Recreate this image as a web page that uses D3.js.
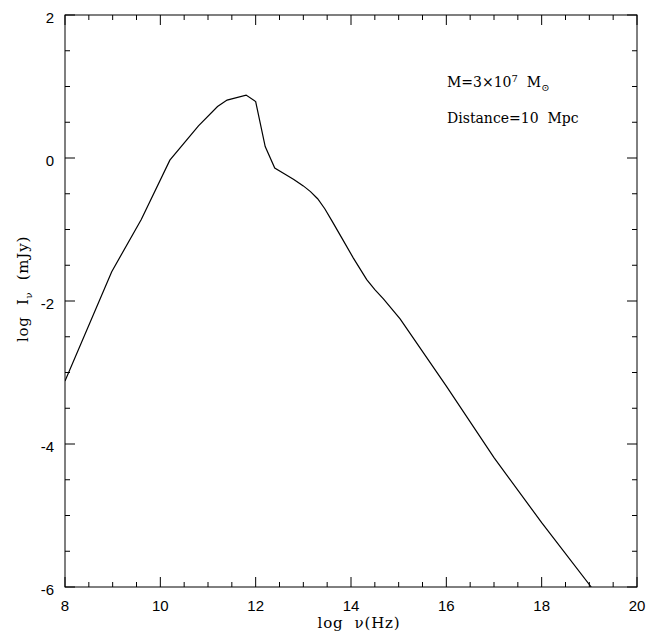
<!DOCTYPE html>
<html>
<head>
<meta charset="utf-8">
<script src="https://cdn.jsdelivr.net/npm/d3@7"></script>
<style>
  body { margin: 0; background: white; }
</style>
</head>
<body>
<div id="container"></div>
<script>
// spectrum: log nu (Hz) vs log I_nu (mJy)
let logNu = [8, 8.98, 9.6, 10.2, 10.8, 11.2, 11.4, 11.8, 12.0, 12.2, 12.4, 12.6, 12.8, 13.0, 13.15, 13.3, 13.45, 13.6, 13.8, 14.05, 14.33, 14.5, 14.68, 15.03, 16.0, 17.0, 18.0, 19.04];
let logI = [-3.12, -1.59, -0.86, -0.03, 0.45, 0.72, 0.81, 0.88, 0.79, 0.16, -0.14, -0.22, -0.30, -0.39, -0.47, -0.57, -0.71, -0.88, -1.11, -1.40, -1.70, -1.84, -1.97, -2.25, -3.19, -4.19, -5.10, -6.0];

let xTicks = [8, 10, 12, 14, 16, 18, 20];
let yTicks = [-6, -4, -2, 0, 2];

let w = 655;
let h = 635;
let plotL = 65, plotR = 637, plotT = 15, plotB = 587;

let viz = d3.select("#container")
  .append("svg")
    .attr("width", w)
    .attr("height", h)
    .style("background-color", "white")
;

let xScale = d3.scaleLinear().domain([8, 20]).range([plotL, plotR]);
let yScale = d3.scaleLinear().domain([-6, 2]).range([plotB, plotT]);

// frame
viz.append("rect")
  .attr("x", plotL)
  .attr("y", plotT)
  .attr("width", plotR - plotL)
  .attr("height", plotB - plotT)
  .attr("fill", "none")
  .style("stroke", "black")
  .style("stroke-width", 1)
;

// ticks: major every 2, minor every 0.5, pointing inward on all four sides
let xMinor = d3.range(8, 20.01, 0.5);
let yMinor = d3.range(-6, 2.01, 0.5);
function tickLen(v){
  return Math.abs(v % 2) < 1e-6 ? 10 : 5;
}

let ticks = viz.append("g").attr("class", "ticks").style("stroke", "black").style("stroke-width", 1);

ticks.selectAll(".xb").data(xMinor).enter()
  .append("line")
    .attr("x1", d => xScale(d)).attr("x2", d => xScale(d))
    .attr("y1", plotB).attr("y2", d => plotB - tickLen(d))
;
ticks.selectAll(".xt").data(xMinor).enter()
  .append("line")
    .attr("x1", d => xScale(d)).attr("x2", d => xScale(d))
    .attr("y1", plotT).attr("y2", d => plotT + tickLen(d))
;
ticks.selectAll(".yl").data(yMinor).enter()
  .append("line")
    .attr("y1", d => yScale(d)).attr("y2", d => yScale(d))
    .attr("x1", plotL).attr("x2", d => plotL + tickLen(d))
;
ticks.selectAll(".yr").data(yMinor).enter()
  .append("line")
    .attr("y1", d => yScale(d)).attr("y2", d => yScale(d))
    .attr("x1", plotR).attr("x2", d => plotR - tickLen(d))
;

// tick labels
viz.selectAll(".xlab").data(xTicks).enter()
  .append("text")
    .text(d => d)
    .attr("x", d => xScale(d))
    .attr("y", 611)
    .attr("text-anchor", "middle")
    .style("font-family", "Liberation Sans, Arial, sans-serif")
    .style("font-size", "15px")
;
viz.selectAll(".ylab").data(yTicks).enter()
  .append("text")
    .text(d => d)
    .attr("x", 54)
    .attr("y", d => yScale(d) + 8)
    .attr("text-anchor", "end")
    .style("font-family", "Liberation Sans, Arial, sans-serif")
    .style("font-size", "15px")
;

// the curve
let line = d3.line()
  .x((d, i) => xScale(logNu[i]))
  .y(d => yScale(d));

viz.append("clipPath").attr("id", "plotclip")
  .append("rect")
    .attr("x", plotL).attr("y", plotT)
    .attr("width", plotR - plotL).attr("height", plotB - plotT);

viz.append("path")
  .attr("d", line(logI))
  .attr("fill", "none")
  .attr("clip-path", "url(#plotclip)")
  .style("stroke", "black")
  .style("stroke-width", 1.2)
;

// axis titles
let serif = "DejaVu Serif, Liberation Serif, serif";

viz.append("text")
  .attr("x", 359)
  .attr("y", 628)
  .attr("text-anchor", "middle")
  .style("font-family", serif)
  .style("font-size", "15px")
  .style("letter-spacing", "0.8px")
  .style("white-space", "pre")
  .text("log  \u03BD(Hz)")
;

let yTitle = viz.append("text")
  .attr("transform", "translate(28, 289) rotate(-90)")
  .attr("text-anchor", "middle")
  .style("font-family", serif)
  .style("font-size", "15px")
  .style("letter-spacing", "0.8px")
  .style("white-space", "pre")
;
yTitle.append("tspan").text("log  I");
yTitle.append("tspan").text("\u03BD").attr("dy", 4).style("font-size", "10px");
yTitle.append("tspan").text("  (mJy)").attr("dy", -4);

// annotations
let massLabel = viz.append("text")
  .attr("x", 447)
  .attr("y", 87)
  .style("font-family", serif)
  .style("font-size", "14px")
  .style("white-space", "pre")
;
massLabel.append("tspan").text("M=3\u00D710");
massLabel.append("tspan").text("7").attr("dy", -5).style("font-size", "10px");
massLabel.append("tspan").text("  M").attr("dy", 5);
massLabel.append("tspan").text("\u2299").attr("dy", 4).style("font-size", "10px");

viz.append("text")
  .attr("x", 447)
  .attr("y", 123)
  .style("font-family", serif)
  .style("font-size", "14px")
  .style("white-space", "pre")
  .text("Distance=10  Mpc")
;
</script>
</body>
</html>
